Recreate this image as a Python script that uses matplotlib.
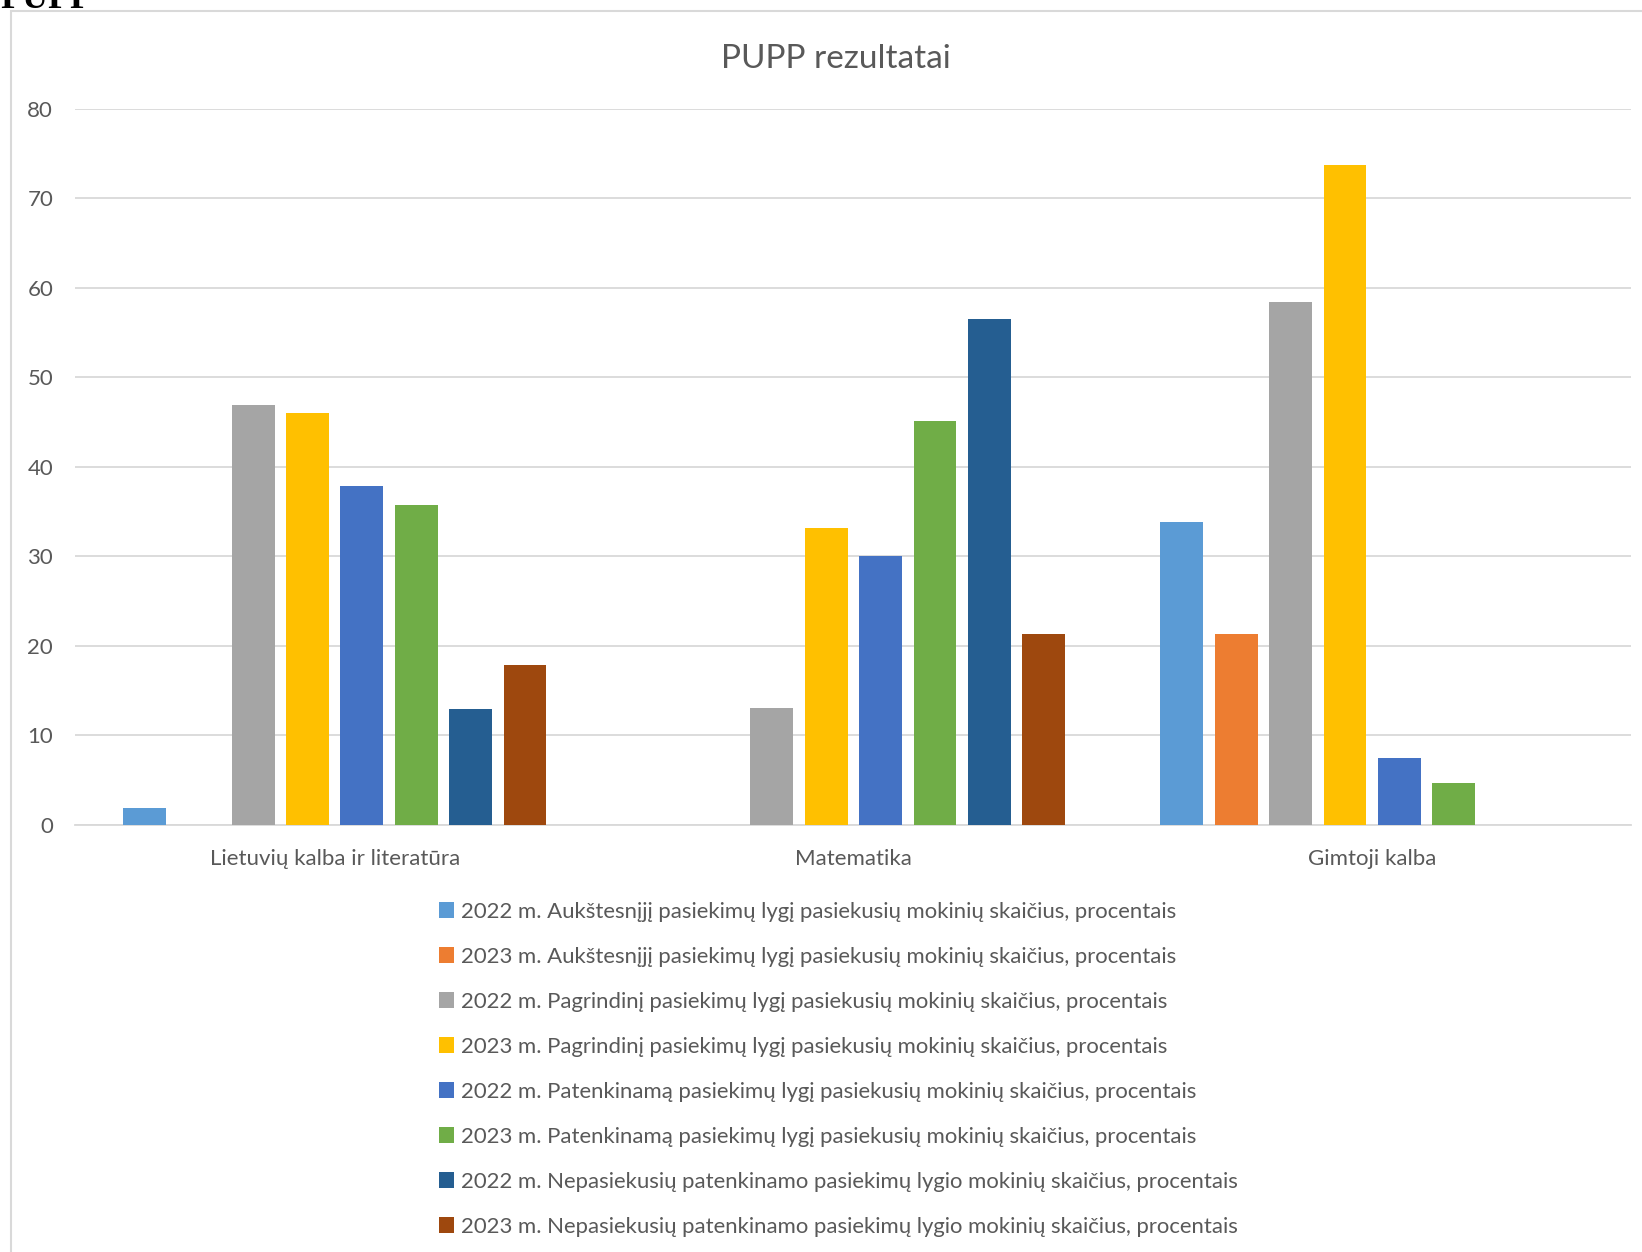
import matplotlib.pyplot as plt
import matplotlib.patches as mpatches
import numpy as np

plt.rcParams['font.family'] = ['Lato', 'DejaVu Sans']

categories = ['Lietuvių kalba ir literatūra', 'Matematika', 'Gimtoji kalba']
series_names = [
    '2022 m. Aukštesnįjį pasiekimų lygį pasiekusių mokinių skaičius, procentais',
    '2023 m. Aukštesnįjį pasiekimų lygį pasiekusių mokinių skaičius, procentais',
    '2022 m. Pagrindinį pasiekimų lygį pasiekusių mokinių skaičius, procentais',
    '2023 m. Pagrindinį pasiekimų lygį pasiekusių mokinių skaičius, procentais',
    '2022 m. Patenkinamą pasiekimų lygį pasiekusių mokinių skaičius, procentais',
    '2023 m. Patenkinamą pasiekimų lygį pasiekusių mokinių skaičius, procentais',
    '2022 m. Nepasiekusių patenkinamo pasiekimų lygio mokinių skaičius, procentais',
    '2023 m. Nepasiekusių patenkinamo pasiekimų lygio mokinių skaičius, procentais',
]
# values per series: [Lietuvių, Matematika, Gimtoji]
aukst_2022 = [1.9, 0, 33.8]
aukst_2023 = [0, 0, 21.3]
pagr_2022 = [46.9, 13.1, 58.4]
pagr_2023 = [46.0, 33.2, 73.7]
paten_2022 = [37.9, 30.1, 7.5]
paten_2023 = [35.8, 45.1, 4.7]
nepas_2022 = [12.9, 56.5, 0]
nepas_2023 = [17.9, 21.3, 0]
values = [aukst_2022, aukst_2023, pagr_2022, pagr_2023,
          paten_2022, paten_2023, nepas_2022, nepas_2023]
colors = ['#5B9BD5', '#ED7D31', '#A5A5A5', '#FFC000',
          '#4472C4', '#70AD47', '#255E91', '#9E480E']

fig = plt.figure(figsize=(16.42, 12.52), dpi=100)
ax = fig.add_axes([0.0459, 0.3411, 0.9477, 0.5719])

x = np.arange(len(categories))
step = 0.1048
width = 0.0827
for j, (vals, col) in enumerate(zip(values, colors)):
    ax.bar(x + (j - 3.5) * step, vals, width, color=col, label=series_names[j],
           zorder=3)

ax.set_xlim(-0.5, 2.5)
ax.set_ylim(0, 80)
ax.set_yticks(range(0, 81, 10))
ax.yaxis.grid(True, color='#D9D9D9', linewidth=1.3, zorder=0)
for s in ['top', 'right', 'left']:
    ax.spines[s].set_visible(False)
ax.spines['bottom'].set_color('#D9D9D9')
ax.spines['bottom'].set_linewidth(1.3)
ax.tick_params(axis='both', length=0, colors='#595959', labelsize=16)
ax.tick_params(axis='y', pad=16)
ax.tick_params(axis='x', pad=17)
ax.set_xticks(x)
ax.set_xticklabels(categories)

fig.text(0.509, 0.953, 'PUPP rezultatai', ha='center', va='center',
         fontsize=24, color='#595959')

# chart border and the cut-off heading above it
fig.patches.append(mpatches.Rectangle((0.0067, -0.01), 1.1, 1 - 0.0084 + 0.01,
                                      transform=fig.transFigure, fill=False,
                                      edgecolor='#D9D9D9', linewidth=1.5))
fig.text(0.0, 1.0, 'PUPP', ha='left', va='center', fontsize=26,
         fontweight='bold', family='Liberation Serif', color='black')

handles, labels = ax.get_legend_handles_labels()
fig.legend(handles, labels, loc='upper left', bbox_to_anchor=(0.2605, 0.2885),
           frameon=False, fontsize=15.9, labelcolor='#595959',
           handlelength=0.7, handleheight=0.7, handletextpad=0.3,
           labelspacing=1.13, borderpad=0)

fig.savefig('out.png', dpi=100)
